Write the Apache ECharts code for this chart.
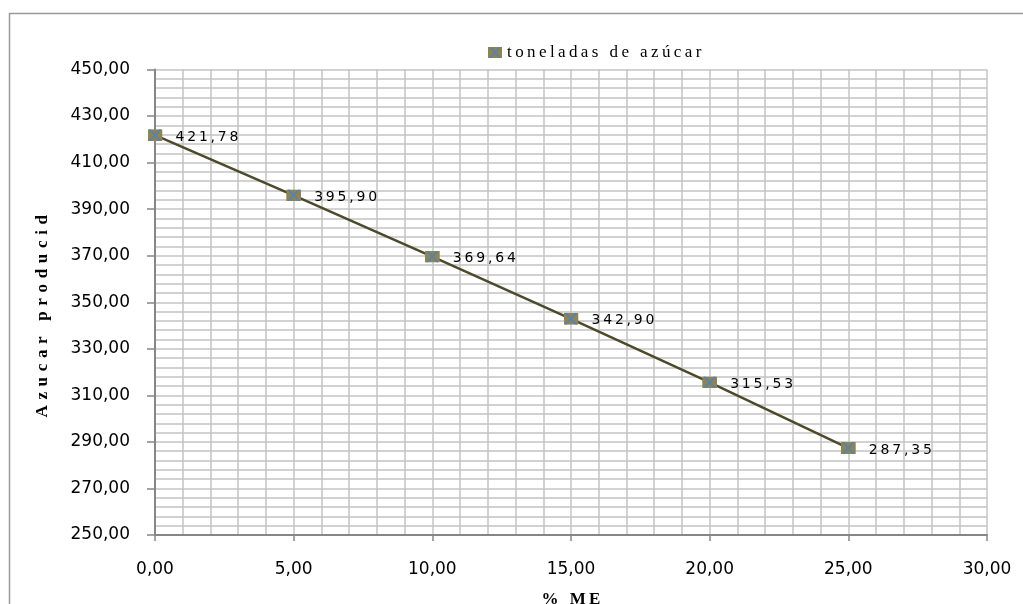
<!DOCTYPE html>
<html>
<head>
<meta charset="utf-8">
<script src="https://cdn.jsdelivr.net/npm/echarts@6/dist/echarts.min.js"></script>
<style>
html,body{margin:0;padding:0;background:#fff;}
#chart{width:1023px;height:604px;}
</style>
</head>
<body>
<div id="chart"></div>
<script>
// Data
const pctME = [0, 5, 10, 15, 20, 25];
const toneladas = [421.78, 395.90, 369.64, 342.90, 315.53, 287.35];
const seriesName = 'toneladas de azúcar';
const xAxisTitle = '% ME';
const yAxisTitle = 'Azucar producid';

const spaced = (s, j) => s.split('').join(j || '\u2009');
const fmt = v => v.toFixed(2).replace('.', ',');

const markerSvg = "<svg xmlns='http://www.w3.org/2000/svg' width='30' height='24' viewBox='0 0 30 24'>" +
  "<rect width='30' height='24' fill='#8C8456'/>" +
  "<path d='M4,0L26,24M26,0L4,24' stroke='#4F81BD' stroke-width='3'/></svg>";
const markerUri = 'image://data:image/svg+xml;charset=utf-8,' + encodeURIComponent(markerSvg);

const gridLine = { lineStyle: { color: '#c4c4c4', width: 1.5 } };

const chart = echarts.init(document.getElementById('chart'));
chart.setOption({
  animation: false,
  backgroundColor: '#ffffff',
  graphic: [{
    type: 'rect',
    shape: { x: 9.5, y: 13.5, width: 1100, height: 700 },
    style: { fill: 'none', stroke: '#9a9a9a', lineWidth: 1.5 },
    z: -1
  }],
  legend: {
    left: 483, top: 39,
    itemWidth: 14, itemHeight: 12,
    icon: markerUri,
    data: [seriesName],
    formatter: name => spaced(name),
    textStyle: { fontFamily: 'Liberation Serif', fontSize: 17, color: '#000' }
  },
  grid: { left: 155, right: 36, top: 69.5, bottom: 69, outerBoundsMode: 'none' },
  xAxis: {
    type: 'value', min: 0, max: 30, interval: 5,
    name: spaced(xAxisTitle), nameLocation: 'middle', nameGap: 56,
    nameTextStyle: { fontFamily: 'Liberation Serif', fontWeight: 'bold', fontSize: 17, color: '#000' },
    axisLine: { show: true, onZero: false, lineStyle: { color: '#868686', width: 2 } },
    axisTick: { show: true, length: 6, lineStyle: { color: '#868686', width: 1.5 } },
    axisLabel: { formatter: fmt, margin: 22, fontFamily: 'DejaVu Sans', fontSize: 17, color: '#000' },
    splitLine: { show: true, ...gridLine },
    minorTick: { show: false, splitNumber: 5 },
    minorSplitLine: { show: true, ...gridLine }
  },
  yAxis: {
    type: 'value', min: 250, max: 450, interval: 20,
    name: spaced(yAxisTitle, '\u2004'), nameLocation: 'middle', nameGap: 104,
    nameTextStyle: { fontFamily: 'Liberation Serif', fontWeight: 'bold', fontSize: 17, color: '#000', padding: [0, 28, 0, 0] },
    axisLine: { show: true, onZero: false, lineStyle: { color: '#868686', width: 2 } },
    axisTick: { show: true, length: 8, lineStyle: { color: '#868686', width: 1.5 } },
    axisLabel: { formatter: fmt, margin: 25, fontFamily: 'DejaVu Sans', fontSize: 17, color: '#000' },
    splitLine: { show: true, ...gridLine },
    minorTick: { show: false, splitNumber: 5 },
    minorSplitLine: { show: true, ...gridLine }
  },
  series: [{
    name: seriesName,
    type: 'line',
    data: pctME.map((x, i) => [x, toneladas[i]]),
    symbol: markerUri,
    symbolSize: [15, 12],
    lineStyle: { color: '#4d4a2c', width: 2.5 },
    itemStyle: { color: '#8C8456' },
    label: {
      show: true, position: 'right', distance: 13, offset: [0, 2],
      formatter: p => spaced(fmt(p.value[1])),
      fontFamily: 'DejaVu Sans', fontSize: 14, color: '#000'
    },
    z: 3
  }]
});

// Safety check: make sure the x-axis tick labels sit below the axis line
// (digit tops near y = 561 as in the reference).
(function fixXLabels() {
  try {
    const TARGET = 561;
    const zr = chart.getZr();
    const topOfLabel = () => {
      zr.refreshImmediately && zr.refreshImmediately();
      const canvas = chart.getDom().querySelector('canvas');
      if (!canvas) return null;
      const ctx = canvas.getContext('2d');
      const y0 = 480, h = 124, x0 = 282, w = 24;
      const d = ctx.getImageData(x0, y0, w, h).data;
      for (let r = 0; r < h; r++) {
        for (let c = 0; c < w; c++) {
          const i = (r * w + c) * 4;
          if (d[i] < 80 && d[i + 1] < 80 && d[i + 2] < 80 && d[i + 3] > 200) return y0 + r;
        }
      }
      return null;
    };
    const t0 = topOfLabel();
    if (t0 == null || Math.abs(t0 - TARGET) <= 3 || t0 > TARGET) return;
    let p1 = TARGET - t0;
    chart.setOption({ xAxis: { axisLabel: { padding: [p1, 0, 0, 0] } } });
    const t1 = topOfLabel();
    if (t1 == null || Math.abs(t1 - TARGET) <= 2) return;
    const slope = (t1 - t0) / p1;
    if (slope > 0.1) {
      const p2 = Math.max(0, p1 + (TARGET - t1) / slope);
      chart.setOption({ xAxis: { axisLabel: { padding: [p2, 0, 0, 0] } } });
    }
  } catch (e) { /* leave chart as is */ }
})();
</script>
</body>
</html>
